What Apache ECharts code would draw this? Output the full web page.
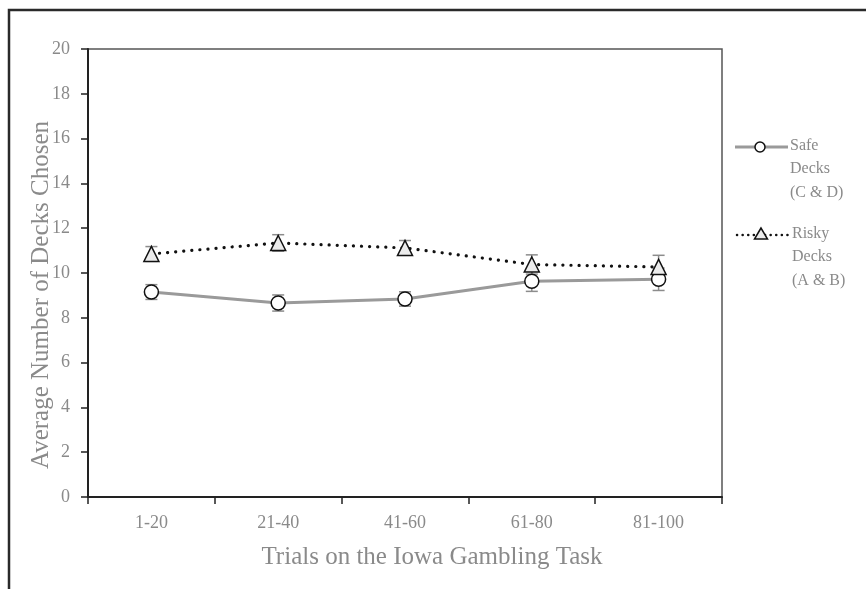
<!DOCTYPE html>
<html>
<head>
<meta charset="utf-8">
<script src="https://cdn.jsdelivr.net/npm/echarts@6/dist/echarts.min.js"></script>
<style>
html,body{margin:0;padding:0;background:#fff;}
#chart{width:866px;height:589px;}
</style>
</head>
<body>
<div id="chart"></div>
<script>
var categories = ['1-20', '21-40', '41-60', '61-80', '81-100'];
var safeValues = [9.15, 8.66, 8.84, 9.63, 9.72];
var safeErrors = [0.33, 0.36, 0.32, 0.45, 0.5];
var riskyValues = [10.85, 11.34, 11.12, 10.38, 10.27];
var riskyErrors = [0.33, 0.37, 0.33, 0.43, 0.52];
var yTicks = [0, 2, 4, 6, 8, 10, 12, 14, 16, 18, 20];
var safeName = 'Safe Decks (C & D)';
var riskyName = 'Risky Decks (A & B)';

var FONT = '"Liberation Serif", "DejaVu Serif", serif';
var TXT = '#8a8a8a';

function errorData(vals, errs) {
  return vals.map(function (v, i) { return [i, v - errs[i], v + errs[i]]; });
}
function errorRender(params, api) {
  var x = api.value(0);
  var lo = api.coord([x, api.value(1)]);
  var hi = api.coord([x, api.value(2)]);
  var hw = 6;
  var st = { stroke: '#8c8c8c', lineWidth: 1.5 };
  return {
    type: 'group',
    children: [
      { type: 'line', shape: { x1: lo[0], y1: lo[1], x2: hi[0], y2: hi[1] }, style: st },
      { type: 'line', shape: { x1: lo[0] - hw, y1: lo[1], x2: lo[0] + hw, y2: lo[1] }, style: st },
      { type: 'line', shape: { x1: hi[0] - hw, y1: hi[1], x2: hi[0] + hw, y2: hi[1] }, style: st }
    ]
  };
}

var chart = echarts.init(document.getElementById('chart'));
var option = {
  backgroundColor: '#fff',
  animation: false,
  grid: {
    left: 88, right: 144, top: 49, bottom: 92,
    show: true, borderColor: '#555', borderWidth: 1.5, backgroundColor: 'transparent'
  },
  xAxis: {
    type: 'category',
    data: categories,
    boundaryGap: true,
    name: 'Trials on the Iowa Gambling Task',
    nameLocation: 'middle',
    nameGap: 48,
    nameMoveOverlap: false,
    nameTextStyle: { fontFamily: FONT, fontSize: 25, color: TXT, padding: [0, 0, 0, 54] },
    axisLine: { lineStyle: { color: '#222', width: 2 } },
    axisTick: { show: true, inside: false, length: 7, alignWithLabel: false, lineStyle: { color: '#222', width: 1.5 } },
    axisLabel: { fontFamily: FONT, fontSize: 18, color: TXT, margin: 17 }
  },
  yAxis: {
    type: 'value',
    min: yTicks[0],
    max: yTicks[yTicks.length - 1],
    interval: 2,
    name: 'Average Number of Decks Chosen',
    nameLocation: 'middle',
    nameGap: 34,
    nameMoveOverlap: false,
    nameTextStyle: { fontFamily: FONT, fontSize: 25, color: TXT, padding: [0, 44, 0, 0] },
    splitLine: { show: false },
    axisLine: { show: true, lineStyle: { color: '#222', width: 2 } },
    axisTick: { show: true, inside: false, length: 7, lineStyle: { color: '#222', width: 1.5 } },
    axisLabel: { fontFamily: FONT, fontSize: 18, color: TXT, margin: 18 }
  },
  series: [
    {
      type: 'custom', name: 'safeErr', z: 1,
      renderItem: errorRender, data: errorData(safeValues, safeErrors), silent: true
    },
    {
      type: 'custom', name: 'riskyErr', z: 1,
      renderItem: errorRender, data: errorData(riskyValues, riskyErrors), silent: true
    },
    {
      type: 'line', name: safeName, data: safeValues, z: 3,
      symbol: 'circle', symbolSize: 14,
      lineStyle: { color: '#9a9a9a', width: 3 },
      itemStyle: { color: '#fff', borderColor: '#111', borderWidth: 1.5 }
    },
    {
      type: 'line', name: riskyName, data: riskyValues, z: 4,
      symbol: 'triangle', symbolSize: 15,
      lineStyle: { color: '#111', width: 3.2, type: [0.1, 8], cap: 'round' },
      itemStyle: { color: '#ececec', borderColor: '#111', borderWidth: 1.5 }
    }
  ],
  graphic: [
    { type: 'rect', shape: { x: 9, y: 10, width: 1000, height: 1000 }, style: { fill: 'none', stroke: '#2a2a2a', lineWidth: 2.5 }, z: 100 },
    // legend: safe
    { type: 'line', shape: { x1: 735, y1: 147, x2: 788, y2: 147 }, style: { stroke: '#9a9a9a', lineWidth: 3 } },
    { type: 'circle', shape: { cx: 760, cy: 147, r: 5 }, style: { fill: '#fff', stroke: '#111', lineWidth: 1.5 } },
    { type: 'text', x: 790, y: 134, style: { text: 'Safe\nDecks\n(C & D)', fontFamily: FONT, fontSize: 16, lineHeight: 23.5, fill: TXT } },
    // legend: risky
    { type: 'line', shape: { x1: 737, y1: 235, x2: 788, y2: 235 }, style: { stroke: '#111', lineWidth: 2.5, lineDash: [0.1, 5.5], lineCap: 'round' } },
    { type: 'polygon', shape: { points: [[761, 228], [754.5, 239], [767.5, 239]] }, style: { fill: '#ececec', stroke: '#111', lineWidth: 1.5 } },
    { type: 'text', x: 792, y: 222, style: { text: 'Risky\nDecks\n(A & B)', fontFamily: FONT, fontSize: 16, lineHeight: 23.5, fill: TXT } }
  ]
};
chart.setOption(option);
</script>
</body>
</html>
